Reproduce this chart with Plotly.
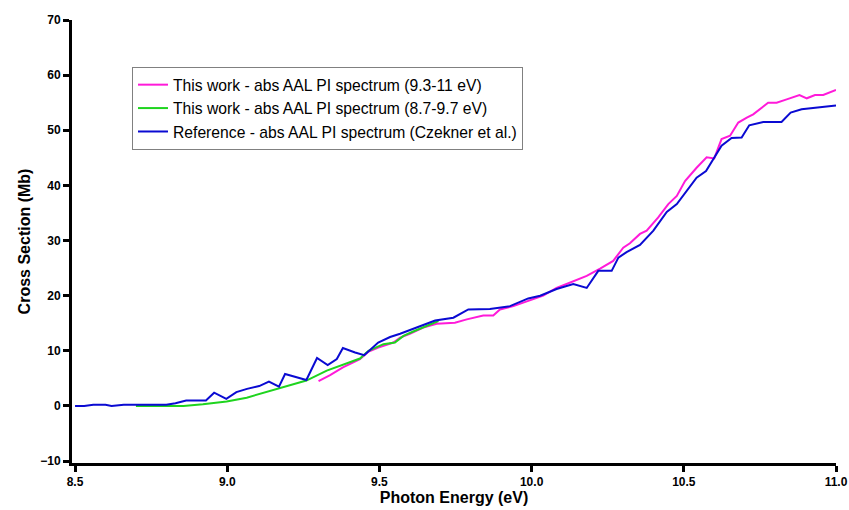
import plotly.graph_objects as go

# Reference (Czekner et al.)
blue_x = [8.50, 8.53, 8.56, 8.60, 8.62, 8.66, 8.70, 8.75, 8.80, 8.83, 8.865, 8.93, 8.957, 8.997,
          9.03, 9.065, 9.105, 9.137, 9.17, 9.19, 9.26, 9.295, 9.33, 9.36, 9.38, 9.42, 9.45,
          9.496, 9.535, 9.568, 9.611, 9.644, 9.683, 9.743, 9.792, 9.863, 9.929, 9.989,
          10.028, 10.082, 10.137, 10.181, 10.219, 10.263, 10.285, 10.312, 10.356, 10.40,
          10.444, 10.477, 10.509, 10.542, 10.573, 10.597, 10.624, 10.657, 10.69, 10.715,
          10.761, 10.821, 10.851, 10.887, 10.936, 10.98, 11.0]
blue_y = [0.0, 0.0, 0.2, 0.2, 0.0, 0.2, 0.2, 0.2, 0.2, 0.5, 1.0, 1.0, 2.4, 1.3,
          2.5, 3.1, 3.6, 4.4, 3.5, 5.8, 4.7, 8.7, 7.4, 8.5, 10.5, 9.7, 9.2,
          11.5, 12.5, 13.1, 14.0, 14.8, 15.5, 16.0, 17.5, 17.6, 18.1, 19.5,
          20.0, 21.2, 22.1, 21.4, 24.5, 24.5, 26.9, 27.9, 29.2, 31.8,
          35.2, 36.6, 39.0, 41.4, 42.6, 44.8, 47.2, 48.6, 48.7, 50.9,
          51.5, 51.5, 53.2, 53.8, 54.1, 54.3, 54.5]

# This work (9.3-11 eV)
pink_x = [9.30, 9.338, 9.38, 9.436, 9.463, 9.496, 9.546, 9.568, 9.60, 9.644, 9.688, 9.748,
          9.787, 9.841, 9.874, 9.896, 9.94, 9.995, 10.038, 10.082, 10.137, 10.181, 10.225,
          10.268, 10.301, 10.323, 10.356, 10.378, 10.416, 10.449, 10.477, 10.504, 10.542,
          10.575, 10.60, 10.624, 10.652, 10.679, 10.707, 10.728, 10.777, 10.805, 10.838,
          10.88, 10.904, 10.931, 10.958, 11.0]
pink_y = [4.5, 5.6, 7.0, 8.5, 9.8, 10.6, 11.5, 12.4, 13.1, 14.2, 14.9, 15.1,
          15.7, 16.4, 16.4, 17.5, 18.1, 19.1, 20.0, 21.4, 22.7, 23.6, 24.9,
          26.3, 28.7, 29.5, 31.2, 31.8, 34.2, 36.6, 38.1, 40.8, 43.2,
          45.1, 44.9, 48.4, 49.0, 51.4, 52.3, 52.9, 55.0, 55.0, 55.6,
          56.4, 55.8, 56.4, 56.4, 57.3]

# This work (8.7-9.7 eV)
green_x = [8.70, 8.78, 8.856, 8.92, 8.998, 9.064, 9.13, 9.195, 9.26, 9.327, 9.38, 9.436,
           9.464, 9.513, 9.551, 9.579, 9.611, 9.644, 9.694]
green_y = [0.0, 0.0, 0.0, 0.3, 0.8, 1.5, 2.5, 3.6, 4.6, 6.4, 7.5, 8.6,
           10.0, 11.2, 11.5, 12.7, 13.5, 14.3, 15.4]

x_ticks = [8.5, 9.0, 9.5, 10.0, 10.5, 11.0]
x_tick_text = ["8.5", "9.0", "9.5", "10.0", "10.5", "11.0"]
y_ticks = [-10, 0, 10, 20, 30, 40, 50, 60, 70]

fig = go.Figure()
fig.add_trace(go.Scatter(x=pink_x, y=pink_y, mode="lines",
                         name="This work - abs AAL PI spectrum (9.3-11 eV)",
                         line=dict(color="#ff1ad9", width=2)))
fig.add_trace(go.Scatter(x=green_x, y=green_y, mode="lines",
                         name="This work - abs AAL PI spectrum (8.7-9.7 eV)",
                         line=dict(color="#1ed41e", width=2)))
fig.add_trace(go.Scatter(x=blue_x, y=blue_y, mode="lines",
                         name="Reference - abs AAL PI spectrum (Czekner et al.)",
                         line=dict(color="#0a0ad2", width=2)))

font_family = "Liberation Sans, Arial, sans-serif"
fig.update_layout(
    width=849, height=510,
    margin=dict(l=72, r=13, t=20, b=47),
    paper_bgcolor="white", plot_bgcolor="white",
    font=dict(family=font_family, color="black"),
    showlegend=True,
    legend=dict(x=0.0785, y=0.894, xanchor="left", yanchor="top",
                bgcolor="white", bordercolor="#808080", borderwidth=1,
                font=dict(size=15.7, family=font_family, color="black"),
                tracegroupgap=0, itemwidth=30),
    xaxis=dict(range=[8.49, 11.0], tickvals=x_ticks, ticktext=x_tick_text,
               automargin=False,
               showgrid=False, zeroline=False, showline=True, linecolor="black",
               linewidth=3, ticks="outside", ticklen=6, tickwidth=3, tickcolor="black",
               tickfont=dict(size=12, family=font_family, weight="bold"),
               title=dict(text="<b>Photon Energy (eV)</b>", font=dict(size=16), standoff=2)),
    yaxis=dict(range=[-10.35, 70], tickvals=y_ticks,
               automargin=False,
               showgrid=False, zeroline=False, showline=True, linecolor="black",
               linewidth=3, ticks="outside", ticklen=6, tickwidth=3, tickcolor="black",
               tickfont=dict(size=12, family=font_family, weight="bold"),
               title=dict(text="<b>Cross Section (Mb)</b>", font=dict(size=16), standoff=6)),
)

fig.write_html("out.html")
